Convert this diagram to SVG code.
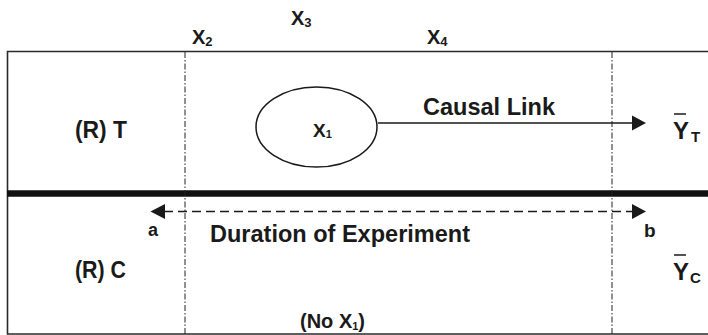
<svg xmlns="http://www.w3.org/2000/svg" width="708" height="335" viewBox="0 0 708 335">
<style>
text{font-family:"Liberation Sans",Arial,sans-serif;font-weight:bold;fill:#1a1a1a}
.frame{stroke:#2a2a2a;stroke-width:1.6;fill:none}
.dd{stroke:#222;stroke-width:1;stroke-dasharray:6 2 1.5 2;fill:none}
.ln{stroke:#1a1a1a;stroke-width:1.5;fill:none}
.dash{stroke:#1a1a1a;stroke-width:1.5;stroke-dasharray:9 5;fill:none}
.ah{fill:#1a1a1a}
.bar{stroke:#1a1a1a;stroke-width:1.5}
</style>
<rect width="708" height="335" fill="#fff"/>
<g id="frame">
<path class="frame" d="M708,51.5 H7.5 V334 H708"/>
<line x1="7" y1="193.5" x2="708" y2="193.5" stroke="#111" stroke-width="6.5"/>
<line class="dd" x1="185" y1="52" x2="185" y2="334"/>
<line class="dd" x1="612" y1="52" x2="612" y2="334"/>
</g>
<g id="labels-top">
<text x="291" y="25" font-size="20">X<tspan font-size="13" dy="2">3</tspan></text>
<text x="192" y="44" font-size="20">X<tspan font-size="13" dy="2">2</tspan></text>
<text x="427" y="44" font-size="20">X<tspan font-size="13" dy="2">4</tspan></text>
</g>
<g id="node-RT"><text x="75" y="138" font-size="23" textLength="52" lengthAdjust="spacingAndGlyphs">(R) T</text></g>
<g id="node-X1">
<ellipse cx="316.5" cy="127" rx="60.5" ry="40" class="ln"/>
<text x="313" y="137" font-size="19">X<tspan font-size="11" dy="1">1</tspan></text>
</g>
<g id="node-YT">
<line class="bar" x1="674" y1="114" x2="686" y2="114"/>
<text x="673" y="139" font-size="24">Y</text>
<text x="691" y="142" font-size="15">T</text>
</g>
<g id="node-RC"><text x="75" y="278" font-size="23" textLength="51" lengthAdjust="spacingAndGlyphs">(R) C</text></g>
<g id="node-YC">
<line class="bar" x1="674" y1="255" x2="686" y2="255"/>
<text x="673" y="280" font-size="24">Y</text>
<text x="690" y="283" font-size="15">C</text>
</g>
<g id="connectors">
<line class="ln" x1="378" y1="123" x2="633" y2="123"/>
<polygon class="ah" points="632,115.5 646,123 632,130.5"/>
<line class="dash" x1="164" y1="211.5" x2="633" y2="211.5"/>
<polygon class="ah" points="165,204 150.5,211.5 165,219"/>
<polygon class="ah" points="632,204 646,211.5 632,219"/>
</g>
<g id="connector-labels">
<text x="423" y="115" font-size="24" textLength="132" lengthAdjust="spacingAndGlyphs">Causal Link</text>
<text x="148" y="236" font-size="18">a</text>
<text x="210" y="242" font-size="24" textLength="260" lengthAdjust="spacingAndGlyphs">Duration of Experiment</text>
<text x="644" y="237" font-size="19">b</text>
<text x="300" y="328" font-size="20">(No X<tspan font-size="11" dy="2">1</tspan><tspan dy="-2">)</tspan></text>
</g>
</svg>
